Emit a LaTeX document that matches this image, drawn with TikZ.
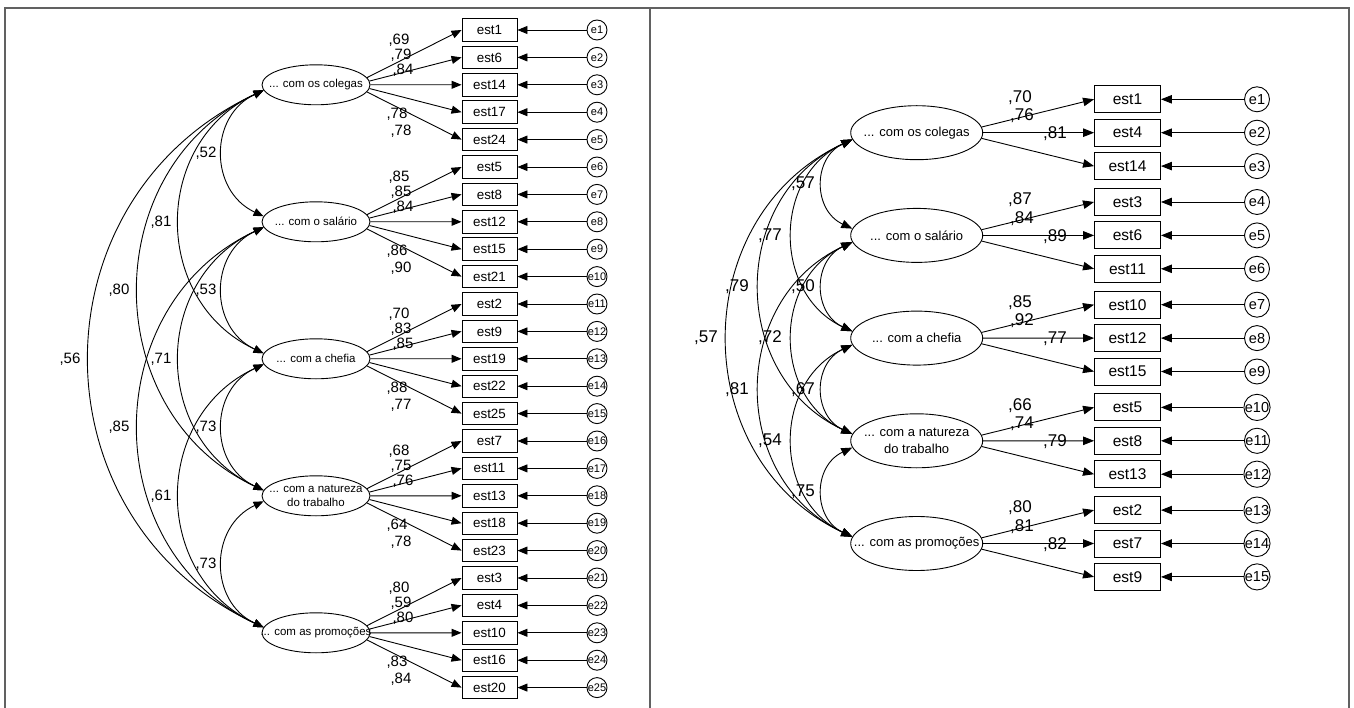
\documentclass[tikz,border=0pt]{standalone}
\usepackage{fontspec}
\setmainfont{Liberation Sans}
\usetikzlibrary{arrows.meta,shapes.geometric}

\begin{document}
\begin{tikzpicture}[x=1pt,y=1pt,
  wire/.style={line width=0.9pt},
  frameline/.style={draw=black!62,line width=1.6pt},
  tipL/.style={-{Triangle[length=10pt,width=8pt]}},
  tipR/.style={-{Triangle[length=11pt,width=8.5pt]}},
  covL/.style={wire,{Triangle[length=10pt,width=8pt]}-{Triangle[length=10pt,width=8pt]}},
  covR/.style={wire,{Triangle[length=11pt,width=8.5pt]}-{Triangle[length=11pt,width=8.5pt]}},
  obsL/.style={draw,wire,minimum width=55pt,minimum height=22.5pt,inner sep=0pt,
               font=\fontsize{13.4}{15}\selectfont},
  obsR/.style={draw,wire,minimum width=66pt,minimum height=27pt,inner sep=0pt,
               font=\fontsize{15.5}{17}\selectfont},
  errL/.style={draw,wire,circle,minimum size=20pt,inner sep=0pt,
               font=\fontsize{11}{12}\selectfont},
  errR/.style={draw,wire,circle,minimum size=25pt,inner sep=0pt,
               font=\fontsize{14.5}{16}\selectfont},
  latL/.style={draw,wire,ellipse,minimum width=108pt,minimum height=40pt,inner sep=0pt},
  latR/.style={draw,wire,ellipse,minimum width=132pt,minimum height=54pt,inner sep=0pt},
  latLtxt/.style={inner sep=0pt,align=center,font=\fontsize{11.5}{13.3}\selectfont},
  latRtxt/.style={inner sep=0pt,align=center,font=\fontsize{13}{16.7}\selectfont},
  valL/.style={inner sep=0pt,font=\fontsize{15}{17}\selectfont},
  valR/.style={inner sep=0pt,font=\fontsize{17}{19}\selectfont}
]
\useasboundingbox (0,0) rectangle (1354,-708);

% panel frames
\draw[frameline] (5,-708) -- (5,-8) -- (1349,-8) -- (1349,-708);
\draw[frameline] (650,-8) -- (650,-708);

% ---------------- first model: five factors, five items each ----------------
\node[latL,label={[latLtxt]center:... com os colegas}] (LF1) at (316,-84.8) {};
\node[latL,label={[latLtxt]center:... com o salário}] (LF2) at (316,-221.8) {};
\node[latL,label={[latLtxt]center:... com a chefia}] (LF3) at (316,-358.8) {};
\node[latL,label={[latLtxt]center:... com a natureza\\do trabalho}] (LF4) at (316,-495.8) {};
\node[latL,label={[latLtxt]center:... com as promoções}] (LF5) at (316,-632.8) {};

\foreach \t [count=\i] in {est1,est6,est14,est17,est24,
                          est5,est8,est12,est15,est21,
                          est2,est9,est19,est22,est25,
                          est7,est11,est13,est18,est23,
                          est3,est4,est10,est16,est20}{
  \pgfmathtruncatemacro\k{(\i-1)/5+1}
  \pgfmathtruncatemacro\j{\i-1-5*(\k-1)}
  \pgfmathtruncatemacro\ang{mod(368-4*\j,360)}
  \pgfmathsetmacro\yy{-(30+27.4*(\i-1))}
  \node[obsL] (L\i) at (489.5,\yy) {\t};
  \node[errL] (LE\i) at (597,\yy) {e\i};
  \draw[wire,tipL] (LE\i) -- (L\i);
  \draw[wire,tipL] (LF\k.\ang) -- (L\i.west);
}

% factor loadings
\foreach \v [count=\i] in {69,79,84,78,78, 85,85,84,86,90, 70,83,85,88,77,
                          68,75,76,64,78, 80,59,80,83,84}{
  \pgfmathtruncatemacro\k{(\i-1)/5}
  \pgfmathtruncatemacro\j{\i-1-5*\k}
  \pgfmathsetmacro\lx{{399,401,403,397,401}[\j]}
  \pgfmathsetmacro\ly{-(84.8+137*\k+{-45,-30,-15,29,46}[\j])}
  \node[valL] (LW\i) at (\lx,\ly) {,\v};
}

% correlations between factors: circular-looking arcs on the left side
\foreach \a/\b/\h/\v in {1/2/54.7/25.5, 2/3/54.7/25.5, 3/4/54.7/25.5, 4/5/54.7/25.5,
                         1/3/112/52.2, 2/4/112/52.2, 3/5/112/52.2,
                         1/4/166.7/77.7, 2/5/166.7/77.7,
                         1/5/232/108.2}
  \draw[covL] (LF\a.186) .. controls +(-\h,-\v) and +(-\h,\v) .. (LF\b.174);

\node[valL] (LR12) at (206,-153.3) {,52};
\node[valL] (LR23) at (206,-290.3) {,53};
\node[valL] (LR34) at (206,-427.3) {,73};
\node[valL] (LR45) at (206,-564.3) {,73};
\node[valL] (LR13) at (161,-221.8) {,81};
\node[valL] (LR24) at (161,-358.8) {,71};
\node[valL] (LR35) at (161,-495.8) {,61};
\node[valL] (LR14) at (119,-290.3) {,80};
\node[valL] (LR25) at (119,-427.3) {,85};
\node[valL] (LR15) at (70,-358.8) {,56};

% ---------------- second model: five factors, three items each ----------------
\node[latR,label={[latRtxt]center:... com os colegas}] (RF1) at (916.7,-132.7) {};
\node[latR,label={[latRtxt]center:... com o salário}] (RF2) at (916.7,-235.4) {};
\node[latR,label={[latRtxt]center:... com a chefia}] (RF3) at (916.7,-338.1) {};
\node[latR,label={[latRtxt]center:... com a natureza\\do trabalho}] (RF4) at (916.7,-440.8) {};
\node[latR,label={[latRtxt]center:... com as promoções}] (RF5) at (916.7,-543.5) {};

\foreach \t [count=\i] in {est1,est4,est14, est3,est6,est11, est10,est12,est15,
                          est5,est8,est13, est2,est7,est9}{
  \pgfmathtruncatemacro\k{(\i-1)/3+1}
  \pgfmathtruncatemacro\j{\i-1-3*(\k-1)}
  \pgfmathtruncatemacro\ang{mod(365-5*\j,360)}
  \pgfmathsetmacro\yy{-(132.7+102.7*(\k-1)+33.4*(\j-1))}
  \node[obsR] (R\i) at (1127.5,\yy) {\t};
  \node[errR] (RE\i) at (1257,\yy) {e\i};
  \draw[wire,tipR] (RE\i) -- (R\i);
  \draw[wire,tipR] (RF\k.\ang) -- (R\i.west);
}

\foreach \v [count=\i] in {70,76,81, 87,84,89, 85,92,77, 66,74,79, 80,81,82}{
  \pgfmathtruncatemacro\k{(\i-1)/3}
  \pgfmathtruncatemacro\j{\i-1-3*\k}
  \pgfmathsetmacro\lx{{1020,1022,1055}[\j]}
  \pgfmathsetmacro\ly{-(132.7+102.7*\k+{-35.5,-17,1}[\j])}
  \node[valR] (RW\i) at (\lx,\ly) {,\v};
}

\foreach \a/\b/\h/\v in {1/2/39.6/18.5, 2/3/39.6/18.5, 3/4/39.6/18.5, 4/5/39.6/18.5,
                         1/3/79.6/37.1, 2/4/79.6/37.1, 3/5/79.6/37.1,
                         1/4/123.6/57.6, 2/5/123.6/57.6,
                         1/5/166.3/77.5}
  \draw[covR] (RF\a.186) .. controls +(-\h,-\v) and +(-\h,\v) .. (RF\b.174);

\node[valR] (RR12) at (803,-184.05) {,57};
\node[valR] (RR23) at (803,-286.75) {,50};
\node[valR] (RR34) at (803,-389.45) {,67};
\node[valR] (RR45) at (803,-492.15) {,75};
\node[valR] (RR13) at (770,-235.4) {,77};
\node[valR] (RR24) at (770,-338.1) {,72};
\node[valR] (RR35) at (770,-440.8) {,54};
\node[valR] (RR14) at (737,-286.75) {,79};
\node[valR] (RR25) at (737,-389.45) {,81};
\node[valR] (RR15) at (706,-338.1) {,57};
\end{tikzpicture}
\end{document}
